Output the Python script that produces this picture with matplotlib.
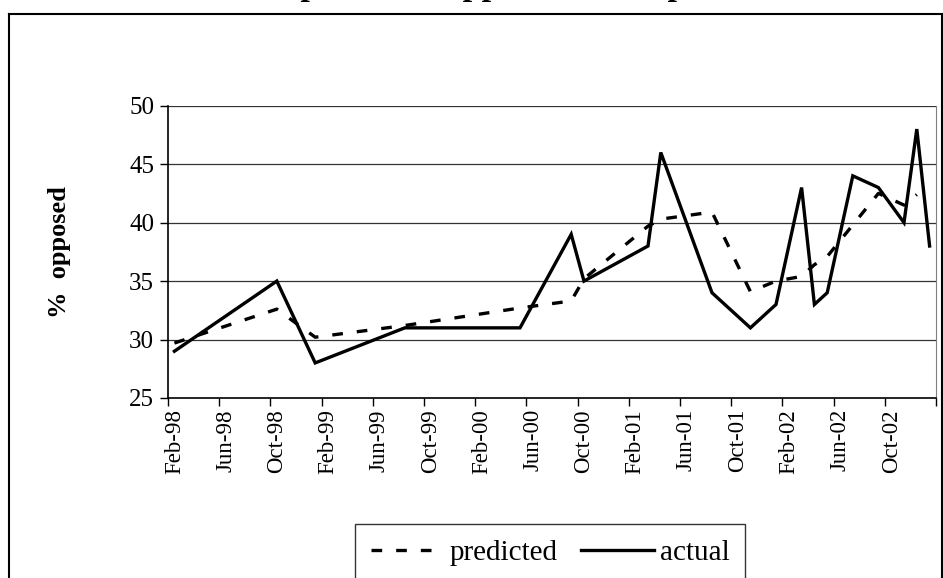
import numpy as np
import pandas as pd
import matplotlib
matplotlib.use("Agg")
import matplotlib.pyplot as plt
from matplotlib.lines import Line2D

# survey dates and values
actual_dates = ["1998-02", "1998-10", "1999-01", "1999-08", "2000-05", "2000-09",
                "2000-10", "2001-03", "2001-04", "2001-08", "2001-11", "2002-01",
                "2002-03", "2002-04", "2002-05", "2002-07", "2002-09", "2002-11",
                "2002-12", "2003-01"]
actual = [29, 35, 28, 31, 31, 39, 35, 38, 46, 34, 31, 33, 43, 33, 34, 44, 43, 40, 48, 38]

predicted_dates = actual_dates[:-1]
predicted = [29.7, 32.6, 30.2, 31.2, 32.7, 33.3, 35.2, 39.7, 40.3, 40.9, 34.1, 35.0,
             35.4, 36.4, 37.1, 39.8, 42.5, 41.5, 42.4]

tick_labels = ["Feb-98", "Jun-98", "Oct-98", "Feb-99", "Jun-99", "Oct-99", "Feb-00",
               "Jun-00", "Oct-00", "Feb-01", "Jun-01", "Oct-01", "Feb-02", "Jun-02",
               "Oct-02"]
y_ticks = [25, 30, 35, 40, 45, 50]

title = "Actual and predicted opposition to a public reform"
ylabel = "%  opposed"

start = pd.Period("1998-02", freq="M")

def month_index(dates):
    return np.array([(pd.Period(d, freq="M") - start).n for d in dates])

plt.rcParams['font.family'] = ['Liberation Serif', 'DejaVu Serif']

fig = plt.figure(figsize=(9.43, 5.78), dpi=100)
W, H = 943.0, 578.0
ax = fig.add_axes([168 / W, 1 - 398 / H, (936 - 168) / W, (398 - 105.7) / H])

ax.plot(month_index(predicted_dates), predicted, color="black", lw=2.4,
        linestyle=(0, (3.2, 4.2)), label="predicted")
ax.plot(month_index(actual_dates), actual, color="black", lw=2.4,
        solid_joinstyle="miter", label="actual")

ax.set_xlim(-0.5, 59.5)
ax.set_ylim(25, 50)
ax.set_yticks(y_ticks)
ax.set_yticklabels([str(v) for v in y_ticks], fontsize=18)
for v in y_ticks[1:]:
    ax.axhline(v, color="#333333", lw=0.9, zorder=0)

# major ticks at month boundaries, labels centred on the month
ax.set_xticks(np.arange(-0.5, 60, 4))
ax.set_xticklabels([])
ax.set_xticks(np.arange(0, 60, 4), minor=True)
ax.set_xticklabels(tick_labels, minor=True, rotation=90, fontsize=16.5)
ax.tick_params(axis="x", which="minor", length=0, pad=8)
ax.tick_params(axis="x", which="major", length=6, width=1, direction="out")
ax.tick_params(axis="y", length=6, width=1, direction="out", pad=4)

ax.spines["top"].set_visible(False)
ax.spines["right"].set_color("#808080")
ax.spines["left"].set_linewidth(1.2)
ax.spines["bottom"].set_linewidth(1.2)

ax.set_ylabel(ylabel, fontsize=19, fontweight="bold", labelpad=42)

# chart area frame (cropped at the bottom)
fig.add_artist(Line2D([9 / W, 9 / W], [-0.1, 1 - 14 / H], color="black", lw=1.5))
fig.add_artist(Line2D([9 / W, 941.5 / W], [1 - 14 / H, 1 - 14 / H], color="black", lw=1.5))
fig.add_artist(Line2D([941.5 / W, 941.5 / W], [-0.1, 1 - 14 / H], color="black", lw=1.5))

fig.text(132 / W, 1 + 5 / H, title, fontsize=24.5, fontweight="bold",
         ha="left", va="baseline")

leg = fig.legend(loc="upper center", bbox_to_anchor=(550 / W, 1 - 524 / H),
                 ncol=2, fontsize=21, frameon=True, fancybox=False,
                 edgecolor="black", handlelength=2.5, handletextpad=0.2,
                 columnspacing=0.8, borderpad=0.55, borderaxespad=0)
leg.get_frame().set_linewidth(1.0)

fig.savefig("out.png", dpi=100)
